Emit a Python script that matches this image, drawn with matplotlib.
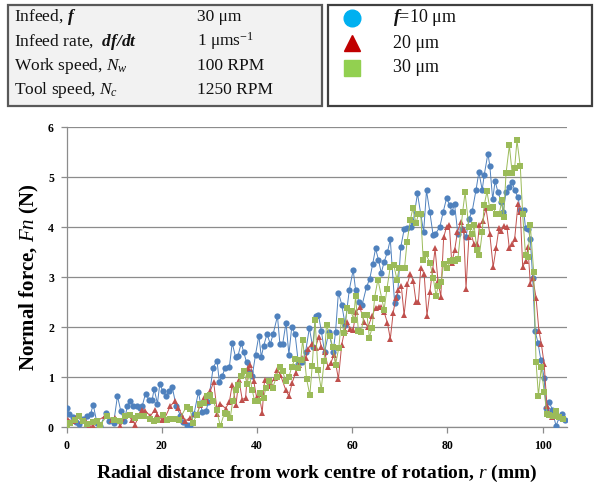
import matplotlib
matplotlib.use("Agg")
import matplotlib.pyplot as plt
from matplotlib.patches import Rectangle
from matplotlib.lines import Line2D

plt.rcParams["font.family"] = ["Liberation Serif", "DejaVu Serif"]
plt.rcParams["mathtext.fontset"] = "custom"
plt.rcParams["mathtext.rm"] = "Liberation Serif"
plt.rcParams["mathtext.it"] = "Liberation Serif:italic"
plt.rcParams["mathtext.bf"] = "Liberation Serif:bold"
plt.rcParams["mathtext.bfit"] = "Liberation Serif:bold:italic"

# readings: radial distance r (mm), normal force Fn (N)
blue_x = [0, 0.6, 1.3, 2.0, 2.7, 3.5, 4.2, 5.1, 5.6, 6.4, 7.1, 8.3, 9.0, 9.9, 10.7, 11.4,
          12.1, 12.8, 13.4, 13.9, 14.8, 15.5, 15.9, 16.6, 17.3, 18.0, 18.4, 19.1, 19.6,
          20.2, 20.9, 21.5, 22.2, 23.0, 23.9, 24.5, 25.2, 26.0, 26.8, 27.7, 28.5, 29.3,
          29.8, 30.8, 31.6, 32.1, 32.7, 33.3, 34.2, 34.8, 35.5, 36.0, 36.7, 37.2, 37.8,
          38.5, 39.0, 39.7, 40.4, 40.9, 41.4, 42.1, 42.8, 43.4, 44.3, 44.8, 45.4, 46.1,
          46.7, 47.3, 48.0, 48.7, 49.5, 50.2, 51.0, 51.7, 52.3, 52.9, 53.5, 54.2, 55.1,
          56.0, 56.5, 57.1, 57.8, 58.5, 59.4, 60.2, 60.7, 61.4, 62.1, 63.0, 63.7, 64.3,
          64.9, 65.5, 66.1, 66.7, 67.4, 68.0, 68.9, 69.5, 70.2, 70.9, 71.6, 72.3, 72.8,
          73.7, 74.4, 75.0, 75.6, 76.3, 77.0, 77.4, 78.4, 79.1, 79.8, 80.5, 80.9, 81.5,
          82.2, 83.1, 83.9, 84.5, 85.2, 86.0, 86.6, 87.3, 87.7, 88.5, 88.9, 89.5, 90.0,
          90.6, 91.3, 91.7, 92.3, 93.0, 93.6, 94.1, 94.8, 95.3, 96.0, 96.4, 97.0, 97.4,
          97.9, 98.4, 99.0, 99.6, 100.3, 100.7, 101.4, 102.0, 102.8, 103.5, 104.1, 104.6]
blue_y = [0.39, 0.26, 0.21, 0.11, 0.06, 0.17, 0.22, 0.27, 0.45, 0.08, 0.02, 0.29, 0.13, 0.08,
          0.62, 0.32, 0.12, 0.42, 0.53, 0.43, 0.42, 0.39, 0.42, 0.67, 0.55, 0.55, 0.76, 0.47,
          0.87, 0.72, 0.62, 0.72, 0.80, 0.43, 0.23, 0.10, 0.05, 0.05, 0.27, 0.70, 0.30, 0.32,
          0.50, 1.19, 1.33, 0.90, 1.02, 1.18, 1.20, 1.68, 1.40, 1.42, 1.68, 1.50, 1.30, 1.10,
          1.02, 1.45, 1.83, 1.40, 1.62, 1.86, 1.66, 1.86, 2.22, 1.67, 1.66, 2.09, 1.45, 2.00,
          1.86, 1.27, 1.30, 1.50, 1.98, 1.60, 2.22, 2.24, 1.93, 1.50, 1.90, 1.50, 1.90, 2.69,
          2.45, 2.05, 2.75, 3.14, 2.75, 2.50, 2.45, 2.80, 2.97, 3.26, 3.57, 3.35, 3.08, 3.30,
          3.50, 3.75, 2.49, 2.60, 3.60, 3.95, 3.97, 4.00, 4.10, 4.67, 4.25, 3.90, 4.73, 4.30,
          3.83, 3.85, 4.00, 4.30, 4.57, 4.44, 4.30, 4.45, 3.85, 3.95, 3.80, 4.16, 4.32, 4.74,
          5.10, 4.74, 5.03, 5.47, 5.22, 4.55, 4.92, 4.70, 4.50, 4.30, 4.70, 4.80, 4.90, 4.74,
          4.60, 4.34, 4.33, 3.97, 3.95, 3.75, 2.99, 1.92, 1.69, 1.35, 0.99, 0.39, 0.50, 0.35,
          0.02, 0.20, 0.27, 0.15]

red_x = [0.4, 1.4, 2.1, 3.2, 3.9, 4.8, 5.6, 6.4, 8.1, 9.5, 10.2, 11.3, 12.7, 13.7, 14.4, 15.8,
         16.5, 17.6, 18.6, 19.1, 20.0, 20.7, 21.8, 22.8, 23.5, 24.3, 24.9, 26.0, 27.4, 28.1,
         28.8, 29.5, 30.2, 30.9, 31.7, 32.3, 33.4, 34.2, 34.8, 35.6, 36.2, 36.9, 37.6, 38.1,
         38.6, 39.3, 39.9, 40.4, 41.1, 41.6, 42.4, 43.0, 43.7, 44.3, 44.9, 46.0, 46.7, 47.4,
         48.1, 48.8, 49.4, 50.2, 50.8, 51.5, 52.3, 53.0, 53.5, 54.2, 54.9, 55.5, 56.2, 57.1,
         57.8, 58.4, 59.0, 59.5, 60.2, 60.8, 61.6, 62.5, 63.3, 64.2, 64.9, 65.6, 66.1, 66.7,
         67.4, 68.0, 68.6, 69.2, 69.7, 70.3, 70.9, 71.6, 72.2, 72.8, 73.4, 73.9, 74.4, 75.1,
         75.7, 76.3, 76.9, 77.4, 78.0, 78.6, 79.2, 79.8, 80.4, 80.9, 81.5, 82.1, 82.8, 83.4,
         83.9, 84.5, 85.0, 85.6, 86.3, 86.7, 87.4, 88.1, 88.9, 89.6, 90.2, 90.8, 91.3, 91.9,
         92.5, 93.0, 93.6, 94.1, 94.8, 95.3, 95.8, 96.4, 96.9, 97.4, 97.9, 98.6, 99.2, 99.7,
         100.3, 100.9, 101.4, 102.0, 102.5, 103.2, 103.7]
red_y = [0.15, 0.12, 0.22, 0.12, 0.15, 0.02, 0.02, 0.12, 0.22, 0.15, 0.19, 0.02, 0.25, 0.15,
         0.05, 0.35, 0.33, 0.22, 0.35, 0.25, 0.15, 0.19, 0.42, 0.52, 0.39, 0.22, 0.12, 0.19,
         0.25, 0.45, 0.59, 0.52, 0.72, 0.90, 0.27, 0.47, 0.37, 0.50, 0.85, 0.45, 0.95, 0.55,
         0.58, 1.19, 1.25, 0.93, 0.60, 0.67, 0.29, 0.95, 0.82, 0.87, 0.99, 1.15, 1.05, 0.75,
         0.62, 0.89, 1.08, 1.25, 1.38, 1.38, 1.57, 1.67, 1.59, 1.81, 1.61, 1.51, 1.20, 1.28,
         1.45, 0.96, 1.65, 1.92, 2.10, 1.97, 1.95, 2.30, 2.40, 2.10, 2.00, 2.23, 2.39, 2.41,
         2.41, 2.30, 2.08, 1.76, 2.29, 2.59, 2.75, 2.83, 2.24, 2.87, 3.07, 2.93, 2.50, 2.50,
         3.19, 3.07, 2.23, 2.70, 3.15, 3.57, 2.93, 2.61, 3.79, 4.00, 4.03, 3.29, 3.53, 3.90,
         4.10, 3.93, 2.77, 3.80, 3.85, 3.65, 3.65, 4.03, 4.12, 4.37, 3.85, 3.20, 3.57, 3.97,
         3.92, 4.02, 3.99, 3.57, 3.65, 3.75, 4.45, 4.29, 3.20, 3.32, 3.59, 2.87, 2.99, 2.59,
         1.93, 1.67, 1.27, 0.42, 0.29, 0.20, 0.22, 0.25, 0.20]

green_x = [0.0, 0.7, 1.8, 2.7, 3.5, 4.3, 5.5, 6.4, 7.1, 8.5, 9.9, 11.3, 12.3, 13.4, 14.4, 15.1,
           16.2, 17.6, 18.3, 19.1, 20.3, 21.1, 21.8, 22.8, 23.7, 25.2, 25.9, 26.6, 27.4, 28.1,
           28.8, 29.5, 30.1, 30.8, 31.5, 32.3, 33.2, 33.7, 34.4, 34.9, 35.5, 36.0, 36.7, 37.2,
           37.9, 38.4, 39.0, 39.5, 40.2, 40.7, 41.4, 41.9, 42.6, 43.3, 44.1, 44.8, 45.4, 46.0,
           46.7, 47.3, 48.0, 48.7, 49.2, 49.6, 50.4, 51.1, 51.6, 52.2, 52.8, 53.5, 54.1, 54.6,
           55.3, 55.9, 56.5, 57.2, 57.7, 58.3, 59.0, 59.7, 60.3, 60.7, 61.3, 61.9, 62.5, 63.1,
           63.6, 64.2, 64.7, 65.4, 66.2, 66.7, 67.3, 68.0, 68.7, 69.4, 69.9, 70.5, 71.0, 71.5,
           72.2, 72.7, 73.4, 73.9, 74.4, 74.9, 75.5, 76.3, 77.0, 77.6, 78.1, 78.7, 79.2, 79.9,
           80.5, 81.1, 81.6, 82.2, 83.2, 83.7, 84.5, 85.2, 85.6, 86.2, 86.7, 87.3, 87.7, 88.3,
           88.9, 89.6, 90.2, 90.9, 91.4, 91.8, 92.3, 93.0, 93.6, 94.1, 94.6, 95.3, 95.8, 96.4,
           96.9, 97.4, 98.1, 98.6, 99.1, 99.7, 100.3, 100.9, 101.4, 102.1, 102.8, 103.4, 104.3]
green_y = [0.02, 0.09, 0.15, 0.22, 0.12, 0.07, 0.11, 0.12, 0.05, 0.22, 0.15, 0.12, 0.22, 0.25,
           0.19, 0.22, 0.22, 0.17, 0.12, 0.15, 0.25, 0.15, 0.17, 0.17, 0.15, 0.41, 0.37, 0.09,
           0.25, 0.47, 0.49, 0.62, 0.65, 0.52, 0.35, 0.02, 0.29, 0.27, 0.19, 0.52, 0.74, 0.85,
           1.02, 1.12, 0.87, 1.05, 0.74, 0.52, 0.52, 0.69, 0.59, 0.79, 0.92, 0.79, 1.00, 1.20,
           1.12, 0.92, 1.00, 1.20, 1.37, 1.19, 1.35, 1.75, 0.97, 0.64, 1.22, 2.15, 1.15, 0.75,
           1.33, 2.04, 1.83, 1.60, 1.25, 1.59, 2.13, 1.89, 2.39, 2.33, 2.15, 2.62, 1.92, 1.91,
           2.25, 2.25, 1.79, 1.99, 2.59, 2.95, 2.57, 2.35, 2.77, 3.21, 3.25, 2.95, 3.19, 3.19,
           3.19, 3.69, 4.13, 4.37, 4.08, 4.25, 4.25, 3.35, 3.45, 3.29, 2.99, 2.63, 2.83, 2.91,
           3.27, 3.19, 3.32, 3.35, 3.33, 3.37, 4.31, 4.69, 3.99, 3.86, 4.03, 3.53, 3.43, 3.89,
           4.43, 4.71, 4.37, 4.40, 4.25, 4.27, 4.53, 4.20, 5.07, 5.63, 5.07, 5.17, 5.73, 5.21,
           4.25, 3.43, 3.41, 4.03, 3.11, 1.31, 0.63, 1.20, 0.70, 0.27, 0.25, 0.23, 0.33, 0.20,
           0.17]

param_labels = ["Infeed, $\\mathbfit{f}$", "Infeed rate,  $\\mathbfit{df/dt}$",
                "Work speed, $N_w$", "Tool speed, $N_c$"]
param_values = ["30 \u03bcm", "1 \u03bcms$^{\\mathregular{-1}}$", "100 RPM", "1250 RPM"]
legend_labels = ["$\\mathbfit{f}$=10 \u03bcm", "20 \u03bcm", "30 \u03bcm"]

W, H = 596, 490
fig = plt.figure(figsize=(W / 100, H / 100), dpi=100)


def fx(px):
    return px / W


def fy(py):
    return 1 - py / H


# parameter table (top left)
fig.patches.append(Rectangle((fx(8), fy(106)), fx(314), 101 / H, transform=fig.transFigure,
                             facecolor="#f2f2f2", edgecolor="#595959", lw=1.6))
for i, (lab, val) in enumerate(zip(param_labels, param_values)):
    y = fy(17 + 24.5 * i)
    fig.text(fx(14), y, lab, fontsize=12.5, va="center", ha="left", color="#111111")
    fig.text(fx(197), y, val, fontsize=12.5, va="center", ha="left", color="#111111")

# legend box (top right)
fig.patches.append(Rectangle((fx(328), fy(106)), fx(264), 101 / H, transform=fig.transFigure,
                             facecolor="white", edgecolor="#404040", lw=1.6))
leg_markers = [("o", "#00b0f0", 12), ("^", "#c00000", 12), ("s", "#92d050", 11)]
for i, ((m, c, s), lab) in enumerate(zip(leg_markers, legend_labels)):
    y = fy(18 + 25 * i)
    fig.lines.append(Line2D([fx(352)], [y], marker=m, color=c, markersize=s, linestyle="none",
                            transform=fig.transFigure))
    fig.text(fx(393), y, lab, fontsize=13, va="center", ha="left", color="#111111")

# chart
ax = fig.add_axes([fx(66.5), fy(427), (566.5 - 66.5) / W, 300 / H])
grid_c = "#8c8c8c"
ax.plot(blue_x, blue_y, color="#4f81bd", lw=0.7, marker="o", markersize=4.5,
        markeredgewidth=0, zorder=3)
ax.plot(red_x, red_y, color="#c0504d", lw=0.7, marker="^", markersize=4.8,
        markeredgewidth=0, zorder=4)
ax.plot(green_x, green_y, color="#9bbb59", lw=0.7, marker="s", markersize=4.4,
        markeredgewidth=0, zorder=5)

ax.set_xlim(0, 105)
ax.set_ylim(0, 6)
ax.set_xticks(range(0, 101, 20))
ax.set_yticks(range(0, 7))
ax.yaxis.grid(True, color=grid_c, lw=0.9)
ax.set_axisbelow(True)
for side in ("top", "right"):
    ax.spines[side].set_visible(False)
for side in ("left", "bottom"):
    ax.spines[side].set_color(grid_c)
    ax.spines[side].set_linewidth(0.9)
ax.tick_params(axis="both", direction="out", length=4, width=0.9, color=grid_c,
               labelsize=8.5, pad=5)
for t in ax.get_xticklabels() + ax.get_yticklabels():
    t.set_fontweight("bold")

ax.set_xlabel("Radial distance from work centre of rotation, $\\mathit{r}$ (mm)",
              fontsize=14, fontweight="bold", labelpad=8)
ax.set_ylabel("Normal force, $\\mathit{Fn}$ (N)", fontsize=15, fontweight="bold", labelpad=5)

fig.savefig("out.png", dpi=100)
